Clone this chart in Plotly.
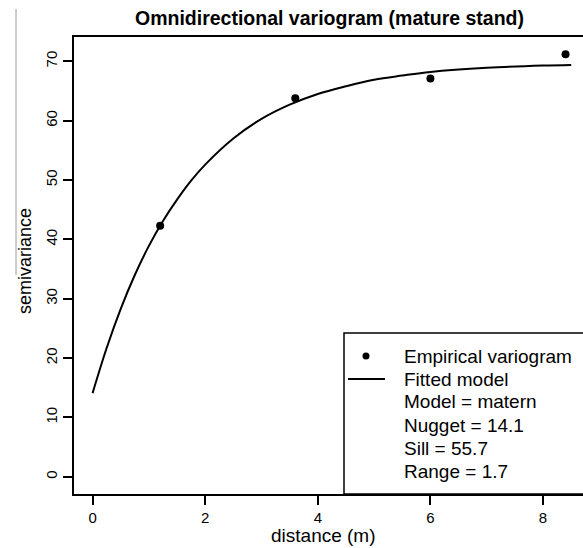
import plotly.graph_objects as go

# Empirical variogram points
emp_dist = [1.2, 3.6, 6.0, 8.4]
emp_gamma = [42.3, 63.8, 67.1, 71.2]

# Fitted model curve
fit_dist = [0, 0.25, 0.5, 0.75, 1.0, 1.25, 1.5, 1.75, 2.0, 2.5, 3.0, 3.5,
            4.0, 4.5, 5.0, 5.5, 6.0, 7.0, 8.0, 8.5]
fit_gamma = [14.1, 21.7, 28.3, 34.0, 38.9, 43.1, 46.7, 49.9, 52.6, 57.0, 60.3, 62.7,
             64.5, 65.8, 66.9, 67.6, 68.2, 68.9, 69.3, 69.4]

x_ticks = [0, 2, 4, 6, 8]
y_ticks = [0, 10, 20, 30, 40, 50, 60, 70]

legend_lines = ["Empirical variogram", "Fitted model", "Model = matern",
                "Nugget = 14.1", "Sill = 55.7", "Range = 1.7"]

FONT = "Liberation Sans, Arial, Helvetica, sans-serif"
W, H = 583, 548
L, R, T, B = 74, 0, 37, 54
PW, PH = W - L - R, H - T - B


def px(x):
    return (x - L) / PW


def py(y):
    return (H - B - y) / PH


fig = go.Figure()
fig.add_trace(go.Scatter(x=fit_dist, y=fit_gamma, mode="lines",
                         line=dict(color="black", width=2, shape="spline"),
                         showlegend=False, hoverinfo="skip"))
fig.add_trace(go.Scatter(x=emp_dist, y=emp_gamma, mode="markers",
                         marker=dict(color="black", size=8),
                         showlegend=False, cliponaxis=False))

shapes = []
annotations = []

# legend box
shapes.append(dict(type="rect", xref="paper", yref="paper",
                   x0=px(344), x1=1.1, y0=0, y1=py(333),
                   line=dict(color="black", width=1.5), fillcolor="white", layer="below"))
# legend keys
shapes.append(dict(type="circle", xref="paper", yref="paper",
                   x0=px(362.5), x1=px(369.5), y0=py(359.5), y1=py(352.5),
                   line=dict(color="black", width=0), fillcolor="black"))
shapes.append(dict(type="line", xref="paper", yref="paper",
                   x0=px(348), x1=px(385), y0=py(379), y1=py(379),
                   line=dict(color="black", width=2)))
# faint scan edge line on the left
shapes.append(dict(type="line", xref="paper", yref="paper",
                   x0=px(16), x1=px(16), y0=py(9), y1=py(275),
                   line=dict(color="#9a9a9a", width=1)))

for i, txt in enumerate(legend_lines):
    annotations.append(dict(text=txt, xref="paper", yref="paper",
                            x=px(402), y=py(356 + i * 23), xanchor="left", yanchor="middle",
                            showarrow=False, font=dict(family=FONT, size=19, color="black")))

annotations.append(dict(text="<b>Omnidirectional variogram (mature stand)</b>",
                        xref="paper", yref="paper", x=px(329), y=py(18),
                        xanchor="center", yanchor="middle", showarrow=False,
                        font=dict(family=FONT, size=19.5, color="black")))
annotations.append(dict(text="distance (m)", xref="paper", yref="paper",
                        x=px(323.5), y=py(535), xanchor="center", yanchor="middle",
                        showarrow=False, font=dict(family=FONT, size=19, color="black")))
annotations.append(dict(text="semivariance", xref="paper", yref="paper",
                        x=px(25), y=py(261), xanchor="center", yanchor="middle",
                        textangle=-90, showarrow=False,
                        font=dict(family=FONT, size=18, color="black")))

fig.update_layout(
    width=W, height=H,
    margin=dict(l=L, r=R, t=T, b=B, pad=0),
    paper_bgcolor="white", plot_bgcolor="white",
    shapes=shapes, annotations=annotations,
    showlegend=False,
    font=dict(family=FONT, color="black"),
    xaxis=dict(range=[-0.33, 8.71], tickvals=x_ticks, ticktext=[str(v) for v in x_ticks],
               showgrid=False, zeroline=False, showline=True, linecolor="black",
               linewidth=2, mirror=True, ticks="outside", ticklen=9, tickwidth=2,
               tickcolor="black", tickfont=dict(family=FONT, size=15, color="black")),
    yaxis=dict(range=[-2.9, 74.1], tickvals=y_ticks, ticktext=[str(v) for v in y_ticks],
               showgrid=False, zeroline=False, showline=True, linecolor="black",
               linewidth=2, mirror=False, ticks="outside", ticklen=9, tickwidth=2,
               tickcolor="black", tickangle=-90,
               tickfont=dict(family=FONT, size=15, color="black")),
)

fig.write_html("out.html", config={"displayModeBar": False},
               post_script="document.body.style.margin='0';document.body.style.overflow='hidden';")
